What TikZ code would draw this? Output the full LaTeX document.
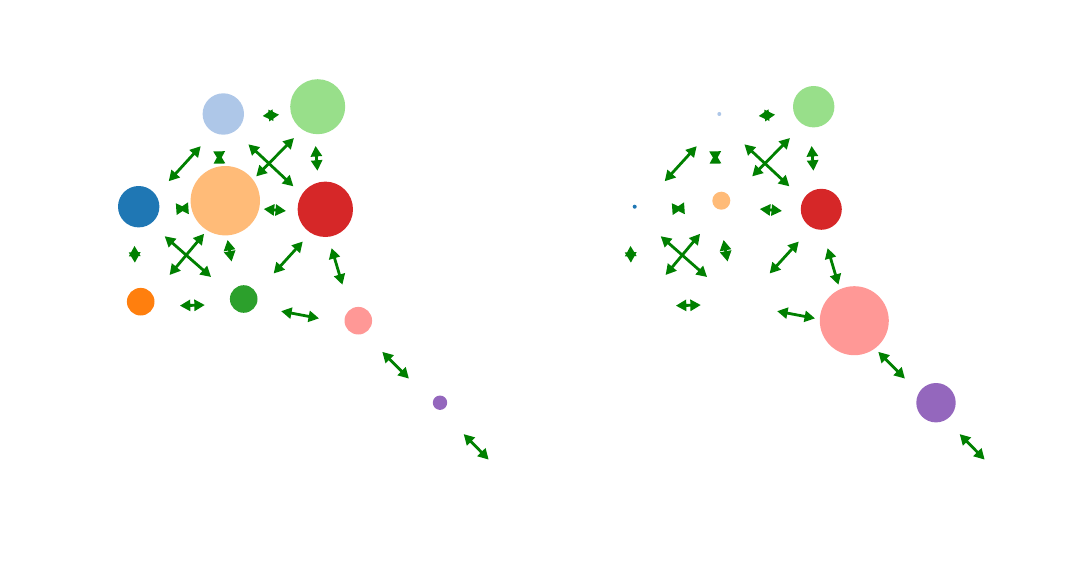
\documentclass[tikz,border=0pt]{standalone}
\usepackage{xcolor}
\usetikzlibrary{arrows.meta,calc}
\definecolor{tabblue}{HTML}{1F77B4}
\definecolor{tablightblue}{HTML}{AEC7E8}
\definecolor{taborange}{HTML}{FF7F0E}
\definecolor{tablightorange}{HTML}{FFBB78}
\definecolor{tabgreen}{HTML}{2CA02C}
\definecolor{tablightgreen}{HTML}{98DF8A}
\definecolor{tabred}{HTML}{D62728}
\definecolor{tabpink}{HTML}{FF9896}
\definecolor{tabpurple}{HTML}{9467BD}
\definecolor{linkgreen}{HTML}{008000}
% edge from #1 to #2, moved 5pt to the right of its direction
\newcommand{\bond}[2]{\draw[link] ($(#1)!5pt!-90:(#2)$) -- ($(#2)!5pt!90:(#1)$);}

\begin{document}
\begin{tikzpicture}[
  x=1pt,
  y=-1pt,
  vertex/.style={circle, draw=none, inner sep=0pt, minimum size=#1},
  link/.style={linkgreen, line width=2.8pt,
    {Triangle[length=10.5pt, width=11pt]}-{Triangle[length=10.5pt, width=11pt]},
    shorten <=39pt, shorten >=39pt}
]
  % ---- page size ---------------------------------------------------------
  \useasboundingbox (0,0) rectangle (1073,583);

  % ---- left panel --------------------------------------------------------
  \node[vertex=41.4pt, fill=tabblue]        (L0) at (138.7,206.7) {};
  \node[vertex=41.4pt, fill=tablightblue]   (L1) at (223.3,114.0) {};
  \node[vertex=27.6pt, fill=taborange]      (L2) at (140.7,301.7) {};
  \node[vertex=69.4pt, fill=tablightorange] (L3) at (225.3,200.7) {};
  \node[vertex=27.6pt, fill=tabgreen]       (L4) at (243.7,299.0) {};
  \node[vertex=55.0pt, fill=tablightgreen]  (L5) at (317.7,106.7) {};
  \node[vertex=55.4pt, fill=tabred]         (L6) at (325.3,209.3) {};
  \node[vertex=27.6pt, fill=tabpink]        (L7) at (358.3,320.7) {};
  \node[vertex=14.4pt, fill=tabpurple]      (L8) at (440.0,402.7) {};
  \coordinate (L9) at (519.5,484.0);

  % ---- right panel: same layout, other sizes -----------------------------
  \begin{scope}[xshift=496pt]
    \node[vertex=4pt,    fill=tabblue]        (R0) at (138.7,206.7) {};
    \node[vertex=4pt,    fill=tablightblue]   (R1) at (223.3,114.0) {};
    \coordinate (R2) at (140.7,301.7);
    \node[vertex=18pt,   fill=tablightorange] (R3) at (225.3,200.7) {};
    \coordinate (R4) at (243.7,299.0);
    \node[vertex=41.4pt, fill=tablightgreen]  (R5) at (317.7,106.7) {};
    \node[vertex=41.0pt, fill=tabred]         (R6) at (325.3,209.3) {};
    \node[vertex=69.0pt, fill=tabpink]        (R7) at (358.3,320.7) {};
    \node[vertex=39.4pt, fill=tabpurple]      (R8) at (440.0,402.7) {};
    \coordinate (R9) at (519.5,484.0);
  \end{scope}

  % ---- edges, both panels ------------------------------------------------
  \foreach \p in {L,R}
    \foreach \u/\v in {0/1, 0/2, 0/3, 0/4, 1/3, 1/5, 1/6, 2/3, 2/4,
                       3/4, 3/5, 3/6, 4/6, 4/7, 5/6, 6/7, 7/8, 8/9}
      \bond{\p\u}{\p\v};
\end{tikzpicture}
\end{document}
